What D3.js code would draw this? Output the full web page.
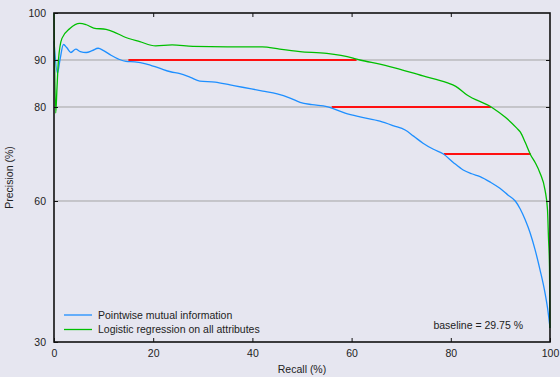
<!DOCTYPE html>
<html>
<head>
<meta charset="utf-8">
<script src="https://cdn.jsdelivr.net/npm/d3@7"></script>
<style>
  body { margin: 0; background: #e6e6f0; }
  svg { display: block; font-family: "Liberation Sans", Arial, sans-serif; }
</style>
</head>
<body>
<div id="chart"></div>
<script>
var margin = { top: 13, right: 10, bottom: 35, left: 54 },
    W = 560, H = 377,
    width = W - margin.left - margin.right,
    height = H - margin.top - margin.bottom;

// recall (%), precision (%)
var pmiRecall = [0, 0.7, 1.2, 1.9, 2.6, 3.4, 4.4, 5.3, 6.5, 7.7, 8.9, 10.0, 11.5, 13.0, 14.5, 16.3, 18.5, 21.4, 23.5, 25.4, 27.5, 29.4, 32.5, 35.5, 38, 42.1, 45, 47.6, 49.6, 52, 55, 58.7, 61.7, 65.7, 68.5, 70.8, 72.5, 74.4, 76.5, 78.5, 80.5, 82.5, 84.2, 85.9, 88, 89.9, 91.5, 93.0, 94, 95, 96, 97, 98, 99, 99.6, 100];
var pmiPrecision = [94, 87.2, 90, 93.3, 92.6, 91.6, 92.3, 91.8, 91.6, 92.0, 92.5, 92.0, 91.0, 90.2, 89.7, 89.6, 89.2, 88.2, 87.5, 87.1, 86.3, 85.5, 85.3, 84.7, 84.2, 83.4, 82.8, 81.9, 81.0, 80.5, 80.1, 78.7, 77.9, 77.0, 76.0, 75.1, 73.8, 72.3, 71.0, 70.0, 68.2, 66.6, 65.8, 65.2, 64.0, 62.7, 61.3, 60.0, 58.3, 56.0, 53.2, 49.6, 45.3, 40.4, 36.5, 33];

var lrRecall = [0, 0.35, 0.6, 0.9, 1.6, 3.2, 5.2, 6.5, 8.0, 10.5, 12, 14.0, 17.3, 20.5, 23.8, 28, 35, 42, 45.5, 49.6, 55, 60.3, 61.7, 65.7, 67.7, 74.4, 79.2, 81, 83.2, 88.3, 91, 93.3, 94, 95, 96.1, 97, 98, 99, 99.5, 99.7, 99.9, 100];
var lrPrecision = [100, 78.7, 84, 90, 94.6, 96.7, 97.8, 97.5, 96.8, 96.5, 96.0, 95.0, 93.9, 93.0, 93.2, 92.9, 92.8, 92.8, 92.3, 91.8, 91.4, 90.4, 90.0, 89.1, 88.6, 86.6, 85.2, 84.4, 82.6, 79.9, 77.8, 75.5, 74.7, 72.5, 69.8, 68.2, 65.9, 62.3, 58.1, 52, 46, 33];

// red horizontal segments: precision level, recall from, recall to
var redLevel = [90, 80, 70];
var redFrom = [15, 56, 78.6];
var redTo = [61, 88.1, 96.1];

var xTicks = [0, 20, 40, 60, 80, 100];
var yTicks = [30, 60, 80, 90, 100];
var gridLevels = [60, 80, 90];

var seriesNames = ["Pointwise mutual information", "Logistic regression on all attributes"];
var seriesColors = ["#1e8fff", "#00bf00"];
var baselineText = "baseline = 29.75 %";

var svg = d3.select("#chart").append("svg")
    .attr("width", W)
    .attr("height", H);

svg.append("rect").attr("width", W).attr("height", H).attr("fill", "#e6e6f0");

var g = svg.append("g")
    .attr("transform", "translate(" + margin.left + "," + margin.top + ")");

var x = d3.scaleLinear().domain([0, 100]).range([0, width]);
var y = d3.scaleLinear().domain([30, 100]).range([height, 0]);

// grid lines
g.selectAll(".grid")
    .data(gridLevels)
    .enter().append("line")
    .attr("x1", 0).attr("x2", width)
    .attr("y1", d => y(d)).attr("y2", d => y(d))
    .attr("stroke", "#a3a3a3")
    .attr("stroke-width", 1);

// red segments
g.selectAll(".red")
    .data(redLevel)
    .enter().append("line")
    .attr("x1", (d, i) => x(redFrom[i]))
    .attr("x2", (d, i) => x(redTo[i]))
    .attr("y1", d => y(d)).attr("y2", d => y(d))
    .attr("stroke", "#ff1010")
    .attr("stroke-width", 2);

var line = d3.line()
    .x(d => x(d[0]))
    .y(d => y(d[1]))
    .curve(d3.curveMonotoneX);

var pmi = pmiRecall.map((r, i) => [r, pmiPrecision[i]]);
var lr = lrRecall.map((r, i) => [r, lrPrecision[i]]);

g.append("path").datum(pmi)
    .attr("d", line)
    .attr("fill", "none")
    .attr("stroke", seriesColors[0])
    .attr("stroke-width", 1.3);

g.append("path").datum(lr)
    .attr("d", line)
    .attr("fill", "none")
    .attr("stroke", seriesColors[1])
    .attr("stroke-width", 1.3);

// axes (ticks point inward)
var bottomAxis = d3.axisBottom(x).tickValues(xTicks).tickSizeInner(-4).tickSizeOuter(0).tickPadding(8);
var topAxis = d3.axisTop(x).tickValues(xTicks.slice(1, -1)).tickSizeInner(-4).tickSizeOuter(0).tickFormat("");
var leftAxis = d3.axisLeft(y).tickValues(yTicks).tickSizeInner(-4).tickSizeOuter(0).tickPadding(8);
var rightAxis = d3.axisRight(y).tickValues(gridLevels).tickSizeInner(-4).tickSizeOuter(0).tickFormat("");

function styleAxis(sel) {
    sel.select(".domain").remove();
    sel.selectAll("line").attr("stroke", "#111").attr("stroke-width", 1);
    sel.selectAll("text").attr("fill", "#222").style("font-size", "10.5px");
}

g.append("g").attr("transform", "translate(0," + height + ")").call(bottomAxis).call(styleAxis);
g.append("g").call(topAxis).call(styleAxis);
g.append("g").call(leftAxis).call(styleAxis);
g.append("g").attr("transform", "translate(" + width + ",0)").call(rightAxis).call(styleAxis);

// frame
g.append("rect")
    .attr("width", width).attr("height", height)
    .attr("fill", "none")
    .attr("stroke", "#111")
    .attr("stroke-width", 1.6);

// axis titles
svg.append("text")
    .attr("x", margin.left + width / 2)
    .attr("y", H - 4)
    .attr("text-anchor", "middle")
    .attr("fill", "#222")
    .style("font-size", "10.5px")
    .text("Recall (%)");

svg.append("text")
    .attr("transform", "translate(13," + (margin.top + height / 2) + ") rotate(-90)")
    .attr("text-anchor", "middle")
    .attr("fill", "#222")
    .style("font-size", "10.5px")
    .text("Precision (%)");

// legend
var legend = g.append("g").attr("transform", "translate(10," + (height - 27) + ")");
seriesNames.forEach(function(name, i) {
    legend.append("line")
        .attr("x1", 0).attr("x2", 28)
        .attr("y1", i * 14.5).attr("y2", i * 14.5)
        .attr("stroke", seriesColors[i])
        .attr("stroke-width", 1.3);
    legend.append("text")
        .attr("x", 34)
        .attr("y", i * 14.5)
        .attr("dy", "0.35em")
        .attr("fill", "#222")
        .style("font-size", "10.5px")
        .text(name);
});

g.append("text")
    .attr("x", x(76.5))
    .attr("y", height - 13)
    .attr("fill", "#222")
    .style("font-size", "10.5px")
    .text(baselineText);
</script>
</body>
</html>
